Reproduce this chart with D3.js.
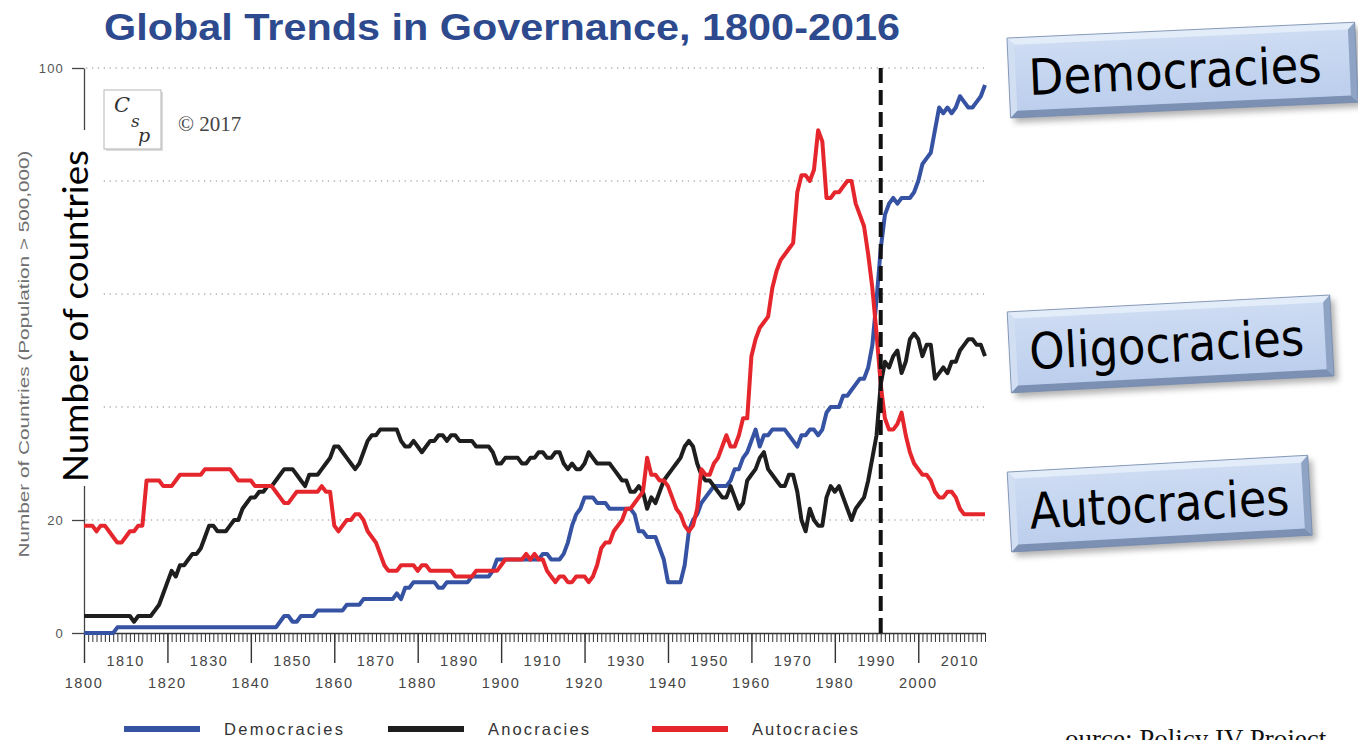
<!DOCTYPE html>
<html><head><meta charset="utf-8">
<script src="https://cdn.jsdelivr.net/npm/d3@7"></script>
<style>body{margin:0;background:#fff;} svg{display:block;}</style>
</head><body><svg id="c" width="1358" height="740"></svg>
<script>
// ---------------- DATA ----------------
const title = "Global Trends in Governance, 1800-2016";
const startYear = 1800, endYear = 2016;
const years = d3.range(startYear, endYear + 1);
const democracies = [
 0,0,0,0,0,0,0,0,1,1,
 1,1,1,1,1,1,1,1,1,1,
 1,1,1,1,1,1,1,1,1,1,
 1,1,1,1,1,1,1,1,1,1,
 1,1,1,1,1,1,1,2,3,3,
 2,2,3,3,3,3,4,4,4,4,
 4,4,4,5,5,5,5,6,6,6,
 6,6,6,6,6,7,6,8,8,9,
 9,9,9,9,9,8,8,9,9,9,
 9,9,9,10,10,10,10,10,11,13,
 13,13,13,13,13,13,13,13,13,13,
 14,14,13,13,13,14,16,19,21,22,
 24,24,24,23,23,23,22,22,22,22,
 22,22,21,18,18,17,17,17,15,13,
 9,9,9,9,12,18,20,21,23,24,
 25,26,26,26,26,27,29,29,31,32,
 34,36,33,35,35,36,36,36,36,35,
 34,33,35,35,36,36,35,36,39,40,
 40,40,42,42,43,44,45,45,47,51,
 59,68,74,76,77,76,77,77,77,78,
 80,83,84,85,89,93,92,93,92,93,
 95,94,93,93,94,95,97];
const anocracies = [
 3,3,3,3,3,3,3,3,3,3,
 3,3,2,3,3,3,3,4,5,7,
 9,11,10,12,12,13,14,14,15,17,
 19,19,18,18,18,19,20,20,22,23,
 24,24,25,25,26,26,27,28,29,29,
 29,28,27,26,28,28,28,29,30,31,
 33,33,32,31,30,29,30,32,34,35,
 35,36,36,36,36,36,34,33,33,34,
 33,32,33,34,34,35,35,34,35,35,
 34,34,34,34,33,33,33,33,32,30,
 30,31,31,31,31,30,30,31,31,32,
 32,31,31,32,32,30,29,30,29,29,
 30,32,31,30,30,30,30,29,28,27,
 27,25,25,26,25,22,24,23,25,27,
 28,29,30,31,33,34,33,30,28,27,
 27,26,25,24,24,26,24,22,23,27,
 28,29,31,32,29,28,27,26,26,28,
 28,25,20,18,22,20,19,19,24,26,
 25,26,24,22,20,22,23,24,27,31,
 35,44,48,47,49,50,46,48,52,53,
 52,49,51,51,45,46,47,46,48,48,
 50,51,52,52,51,51,49];
const autocracies = [
 19,19,19,18,19,19,18,17,16,16,
 17,18,18,19,19,27,27,27,27,26,
 26,26,27,28,28,28,28,28,28,29,
 29,29,29,29,29,29,28,27,27,27,
 27,26,26,26,26,26,25,24,23,23,
 24,25,25,25,25,25,25,26,25,25,
 19,18,19,20,20,21,21,20,18,17,
 16,14,12,11,11,11,12,12,12,12,
 11,12,12,11,11,11,11,11,11,10,
 10,10,10,10,11,11,11,11,11,11,
 12,13,13,13,13,13,14,13,14,13,
 13,11,10,9,10,10,9,9,10,10,
 10,9,10,12,15,16,16,18,19,20,
 22,22,23,24,25,31,28,28,27,27,
 26,24,22,21,19,18,19,22,29,28,
 28,30,31,33,35,33,33,35,38,38,
 49,52,54,55,56,61,64,66,67,68,
 69,78,81,81,80,82,89,87,77,77,
 78,78,79,80,80,76,74,72,67,61,
 53,44,38,36,36,37,39,35,32,30,
 29,28,28,27,25,24,24,25,25,24,
 22,21,21,21,21,21,21];
const seriesNames = ["Democracies", "Anocracies", "Autocracies"];
const seriesColors = ["#3652A3", "#1E1E1E", "#E5262D"];
const yTicks = [0, 20, 40, 60, 80, 100];
const yTickLabels = ["0", "20", "40", "60", "80", "100"];
const gridValues = [20, 40, 60, 80, 100];
const oddDecades = [1810,1830,1850,1870,1890,1910,1930,1950,1970,1990,2010];
const evenDecades = [1800,1820,1840,1860,1880,1900,1920,1940,1960,1980,2000];
const markerYear = 1991;
const calloutLabels = ["Democracies", "Oligocracies", "Autocracies"];
const yAxisTitle = "Number of Countries (Population > 500,000)";
const overlayTitle = "Number of countries";
const copyrightText = "\u00A9 2017";
const sourceText = "ource: Policy IV Project";

// ---------------- DRAW ----------------
const svg = d3.select("#c");
const x = d3.scaleLinear().domain([startYear, endYear]).range([84, 985]);
const y = d3.scaleLinear().domain([0, 100]).range([633, 68]);
const sans = "'Liberation Sans', Arial, sans-serif";

const defs = svg.append("defs");
const blur = defs.append("filter").attr("id","sh").attr("x","-10%").attr("y","-20%").attr("width","130%").attr("height","160%");
blur.append("feGaussianBlur").attr("stdDeviation", 3);
const grad = defs.append("linearGradient").attr("id","bx").attr("x1",0).attr("y1",0).attr("x2",0).attr("y2",1);
grad.append("stop").attr("offset","0%").attr("stop-color","#CFDDF3");
grad.append("stop").attr("offset","100%").attr("stop-color","#BACDEC");

// title
svg.append("text").attr("x",104).attr("y",40).text(title)
  .attr("font-family",sans).attr("font-weight","bold").attr("font-size",36)
  .attr("fill","#2E4A8E").attr("textLength",796).attr("lengthAdjust","spacingAndGlyphs");

// gridlines
svg.append("g").selectAll("line").data(gridValues).join("line")
  .attr("x1",86).attr("x2",985).attr("y1",d=>y(d)).attr("y2",d=>y(d))
  .attr("stroke","#8a8a8a").attr("stroke-width",1.2).attr("stroke-dasharray","1.3,4.6");

// y axis
const yAxis = d3.axisLeft(y).tickValues(yTicks).tickSize(12).tickSizeOuter(0).tickPadding(8)
  .tickFormat((d,i)=>yTickLabels[i]);
const gy = svg.append("g").attr("transform","translate(84,0)").call(yAxis);
gy.select(".domain").attr("stroke","#444").attr("stroke-width",1.3);
gy.selectAll(".tick line").attr("stroke","#444").attr("stroke-width",1.3);
gy.selectAll(".tick text").attr("font-family",sans).attr("font-size",13).attr("fill","#555").attr("letter-spacing",1.2);

// x axis minor ticks (every year)
const gxMinor = svg.append("g").attr("transform","translate(0,633)")
  .call(d3.axisBottom(x).tickValues(years).tickSize(9).tickSizeOuter(0).tickFormat(""));
gxMinor.select(".domain").attr("stroke","#333").attr("stroke-width",1.4);
gxMinor.selectAll(".tick line").attr("stroke","#333").attr("stroke-width",1);
// long ticks
const gxMajor = svg.append("g").attr("transform","translate(0,633)")
  .call(d3.axisBottom(x).tickValues(evenDecades).tickSize(30).tickSizeOuter(0).tickFormat(""));
gxMajor.select(".domain").remove();
gxMajor.selectAll(".tick line").attr("stroke","#333").attr("stroke-width",1.4);
// labels
svg.append("g").selectAll("text").data(oddDecades).join("text")
  .attr("x",d=>x(d)).attr("y",666).attr("text-anchor","middle").text(d=>d)
  .attr("font-family",sans).attr("font-size",14.5).attr("fill","#444").attr("letter-spacing",1.6);
svg.append("g").selectAll("text").data(evenDecades).join("text")
  .attr("x",d=>x(d)).attr("y",688).attr("text-anchor","middle").text(d=>d)
  .attr("font-family",sans).attr("font-size",14.5).attr("fill","#444").attr("letter-spacing",1.6);

// series lines
const line = d3.line().x((d,i)=>x(years[i])).y(d=>y(d));
[democracies, anocracies, autocracies].forEach((s,k)=>{
  svg.append("path").datum(s).attr("d",line).attr("fill","none")
    .attr("stroke",seriesColors[k]).attr("stroke-width",4).attr("stroke-linejoin","round");
});

// dashed marker
svg.append("line").attr("x1",x(markerYear)).attr("x2",x(markerYear)).attr("y1",y(100)).attr("y2",y(0))
  .attr("stroke","#111").attr("stroke-width",4).attr("stroke-dasharray","15,7");

// white cover over axis + overlay title
svg.append("rect").attr("x",36).attr("y",130).attr("width",66).attr("height",356).attr("fill","#fff");
svg.append("text").attr("transform","translate(88,316) rotate(-90)").attr("text-anchor","middle")
  .text(overlayTitle).attr("font-family","Lato, 'Open Sans', sans-serif").attr("font-size",34)
  .attr("fill","#000").attr("textLength",332).attr("lengthAdjust","spacingAndGlyphs");
svg.append("text").attr("transform","translate(29,354) rotate(-90)").attr("text-anchor","middle")
  .text(yAxisTitle).attr("font-family",sans).attr("font-size",14.5)
  .attr("fill","#707070").attr("textLength",407).attr("lengthAdjust","spacingAndGlyphs");

// logo
svg.append("rect").attr("x",106).attr("y",92).attr("width",57).attr("height",59).attr("fill","#ddd");
svg.append("rect").attr("x",104).attr("y",90).attr("width",57).attr("height",59).attr("fill","#fff").attr("stroke","#b5b5b5");
const lt = svg.append("text").attr("font-family","'DejaVu Serif', serif").attr("font-style","italic").attr("fill","#333");
lt.append("tspan").attr("x",114).attr("y",112).attr("font-size",21).text("C");
lt.append("tspan").attr("x",131).attr("y",127).attr("font-size",17).text("s");
lt.append("tspan").attr("x",138).attr("y",142).attr("font-size",19).text("p");
svg.append("text").attr("x",178).attr("y",131).text(copyrightText)
  .attr("font-family","'Liberation Serif', serif").attr("font-size",21).attr("fill","#444");

// legend
const legX = [124, 388, 652];
seriesNames.forEach((n,i)=>{
  svg.append("line").attr("x1",legX[i]).attr("x2",legX[i]+76).attr("y1",729).attr("y2",729)
    .attr("stroke",seriesColors[i]).attr("stroke-width",6);
  svg.append("text").attr("x",legX[i]+100).attr("y",735).text(n)
    .attr("font-family",sans).attr("font-size",16.5).attr("fill","#333")
    .attr("textLength",[119,101,106][i]).attr("lengthAdjust","spacing");
});

// callout boxes
const boxes = [
  {cx:1182.6, cy:70.1, w:348, h:80, a:-2.6, tl:293},
  {cx:1170.6, cy:343.9, w:323, h:81, a:-3.0, tl:275},
  {cx:1159.7, cy:503.6, w:301, h:80, a:-3.2, tl:260}
];
boxes.forEach((b,i)=>{
  const g = svg.append("g").attr("transform",`translate(${b.cx},${b.cy}) rotate(${b.a})`);
  const W=b.w/2, H=b.h/2, e=7;
  g.append("rect").attr("x",-W+4).attr("y",-H+5).attr("width",b.w).attr("height",b.h)
    .attr("fill","#000").attr("opacity",0.3).attr("filter","url(#sh)");
  g.append("rect").attr("x",-W).attr("y",-H).attr("width",b.w).attr("height",b.h).attr("fill","url(#bx)");
  const poly=(pts,c)=>g.append("polygon").attr("points",pts.map(p=>p.join(",")).join(" ")).attr("fill",c);
  poly([[-W,-H],[W,-H],[W-e,-H+e],[-W+e,-H+e]],"#E3ECF9");
  poly([[-W,-H],[-W+e,-H+e],[-W+e,H-e],[-W,H]],"#D2DFF3");
  poly([[W,-H],[W,H],[W-e,H-e],[W-e,-H+e]],"#8FA3C4");
  poly([[-W,H],[-W+e,H-e],[W-e,H-e],[W,H]],"#7B90B3");
  g.append("rect").attr("x",-W).attr("y",-H).attr("width",b.w).attr("height",b.h)
    .attr("fill","none").attr("stroke","#7388AB").attr("stroke-width",0.8);
  g.append("text").attr("x",-W+20).attr("y",18).text(calloutLabels[i])
    .attr("font-family","'DejaVu Sans', Verdana, sans-serif").attr("font-size",50).attr("fill","#000")
    .attr("textLength",b.tl).attr("lengthAdjust","spacingAndGlyphs");
});

// source
svg.append("text").attr("x",1065).attr("y",748).text(sourceText)
  .attr("font-family","'Liberation Serif', 'DejaVu Serif', serif").attr("font-size",27).attr("fill","#111");
</script></body></html>
